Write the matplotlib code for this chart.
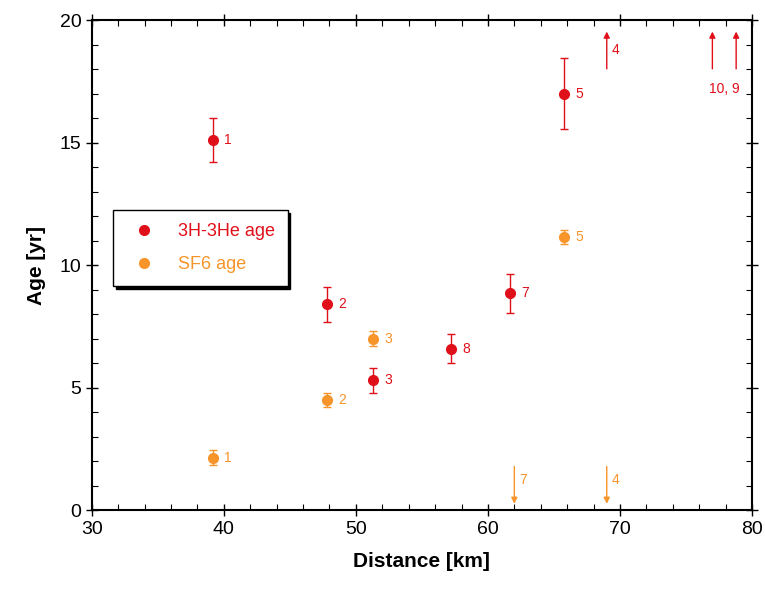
import matplotlib.pyplot as plt
from matplotlib.lines import Line2D
from matplotlib.ticker import MultipleLocator

plt.rcParams['font.family'] = ['Liberation Sans', 'DejaVu Sans']

red = '#e0101a'
orange = '#f7942a'

# 3H-3He ages
h_x = [39.2, 47.8, 51.3, 57.2, 61.7, 65.8]
h_y = [15.1, 8.4, 5.3, 6.6, 8.85, 17.0]
h_err = [0.9, 0.7, 0.5, 0.6, 0.8, 1.45]
h_lab = ['1', '2', '3', '8', '7', '5']

# SF6 ages
s_x = [39.2, 47.8, 51.3, 65.8]
s_y = [2.15, 4.5, 7.0, 11.15]
s_err = [0.3, 0.3, 0.3, 0.3]
s_lab = ['1', '2', '3', '5']

# out-of-range arrows
h_up_x = [69.0, 77.0, 78.8]
s_down_x = [62.0, 69.0]
s_down_lab = ['7', '4']

fig = plt.figure(figsize=(7.65, 5.94), dpi=100)
ax = fig.add_axes([0.120, 0.141, 0.863, 0.825])

ax.errorbar(h_x, h_y, yerr=h_err, fmt='o', color=red, ms=7, capsize=3,
            elinewidth=1, capthick=1, zorder=3)
ax.errorbar(s_x, s_y, yerr=s_err, fmt='o', color=orange, ms=7, capsize=3,
            elinewidth=1, capthick=1, zorder=3)

for x, y, t in zip(h_x, h_y, h_lab):
    ax.annotate(t, (x, y), xytext=(8, 0), textcoords='offset points',
                color=red, fontsize=10, va='center')
for x, y, t in zip(s_x, s_y, s_lab):
    ax.annotate(t, (x, y), xytext=(8, 0), textcoords='offset points',
                color=orange, fontsize=10, va='center')

for x in h_up_x:
    ax.annotate('', xy=(x, 19.65), xytext=(x, 17.9),
                arrowprops=dict(arrowstyle='-|>', color=red, lw=1,
                                mutation_scale=9))
ax.text(69.4, 18.8, '4', color=red, fontsize=10, va='center')
ax.text(77.9, 17.2, '10, 9', color=red, fontsize=10, ha='center', va='center')

for x, t in zip(s_down_x, s_down_lab):
    ax.annotate('', xy=(x, 0.15), xytext=(x, 1.9),
                arrowprops=dict(arrowstyle='-|>', color=orange, lw=1,
                                mutation_scale=9))
    ax.text(x + 0.4, 1.25, t, color=orange, fontsize=10, va='center')

ax.set_xlim(30, 80)
ax.set_ylim(0, 20)
ax.xaxis.set_major_locator(MultipleLocator(10))
ax.xaxis.set_minor_locator(MultipleLocator(2))
ax.yaxis.set_major_locator(MultipleLocator(5))
ax.yaxis.set_minor_locator(MultipleLocator(1))
ax.tick_params(which='major', direction='inout', length=8, width=1,
               labelsize=14, top=True, right=True)
ax.tick_params(which='minor', direction='in', length=4, width=0.8,
               top=True, right=True)
for s in ax.spines.values():
    s.set_linewidth(1.5)

ax.set_xlabel('Distance [km]', fontsize=15, fontweight='bold', labelpad=10)
ax.set_ylabel('Age [yr]', fontsize=15, fontweight='bold', labelpad=10)

handles = [Line2D([], [], ls='none', marker='o', ms=7, color=red),
           Line2D([], [], ls='none', marker='o', ms=7, color=orange)]
leg = ax.legend(handles, ['3H-3He age', 'SF6 age'], loc='upper left',
                bbox_to_anchor=(0.032, 0.612), borderaxespad=0,
                fancybox=False, edgecolor='black', framealpha=1,
                shadow={'color': 'black', 'alpha': 1}, fontsize=13,
                handletextpad=0.9, borderpad=0.7, labelspacing=0.9,
                handlelength=2.0)
for txt, c in zip(leg.get_texts(), [red, orange]):
    txt.set_color(c)

fig.savefig('out.png', dpi=100)
